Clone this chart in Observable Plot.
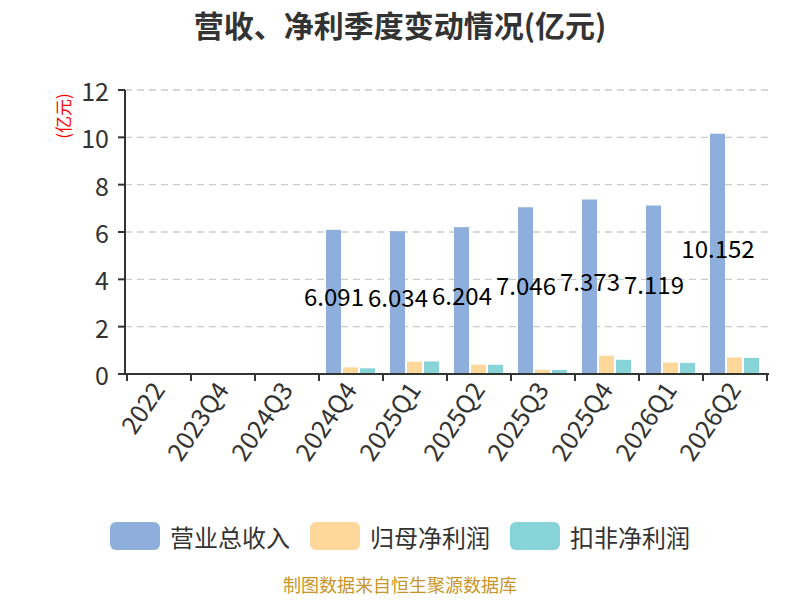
<!DOCTYPE html>
<html><head><meta charset="utf-8">
<script src="https://cdn.jsdelivr.net/npm/d3@7"></script>
<script src="https://cdn.jsdelivr.net/npm/@observablehq/plot@0.6"></script>
<style>
body{margin:0;width:800px;height:600px;background:#fff;font-family:"Noto Sans CJK SC","Noto Sans",sans-serif;overflow:hidden}
#title{height:50px;line-height:48px;text-align:center;font-size:30px;font-weight:bold;color:#333}
#chart{height:460px}
#legend{height:52px;display:flex;justify-content:center;align-items:center;font-size:24px;color:#333}
.item{display:flex;align-items:center;margin:0 10px}
.sw{width:50px;height:28px;border-radius:6px;margin-right:10px}
#caption{height:38px;line-height:44px;text-align:center;font-size:18px;color:#c8952a}
</style></head><body>
<div id="title">营收、净利季度变动情况(亿元)</div>
<div id="chart"></div>
<div id="legend"></div>
<div id="caption">制图数据来自恒生聚源数据库</div>
<script>
const categories = ["2022","2023Q4","2024Q3","2024Q4","2025Q1","2025Q2","2025Q3","2025Q4","2026Q1","2026Q2"];
const seriesNames = ["营业总收入","归母净利润","扣非净利润"];
const revenue = [null,null,null,6.091,6.034,6.204,7.046,7.373,7.119,10.152];
const netProfit = [null,null,null,0.28,0.52,0.39,0.18,0.77,0.48,0.70];
const deductedProfit = [null,null,null,0.24,0.53,0.39,0.17,0.60,0.47,0.68];
const colors = ["#8eaedb","#fed89a","#86d4d8"];
const yTicks = [0,2,4,6,8,10,12];
const unitLabel = "(亿元)";

const seriesValues = [revenue, netProfit, deductedProfit];
const rows = [];
categories.forEach((c, i) => {
  seriesNames.forEach((s, j) => {
    const v = seriesValues[j][i];
    if (v != null) rows.push({category: c, series: s, value: v});
  });
});
const labelRows = rows.filter(d => d.series === seriesNames[0]);

const W = 800, H = 460, mL = 125, mR = 32, mT = 40, mB = 136;
const font = '"Noto Sans CJK SC","Noto Sans",sans-serif';
const numFont = '"Noto Sans CJK SC","Noto Sans",sans-serif';

const chart = Plot.plot({
  width: W, height: H,
  marginTop: mT, marginLeft: mL, marginRight: mR, marginBottom: mB,
  style: {fontFamily: numFont, fontSize: "24px", color: "#333", background: "transparent", overflow: "visible"},
  fx: {domain: categories, paddingInner: 0, paddingOuter: 0, label: null, axis: null},
  x: {domain: seriesNames, paddingInner: 0.11, paddingOuter: 0.34, axis: null},
  y: {domain: [0, 12], axis: null},
  color: {domain: seriesNames, range: colors},
  marks: [
    Plot.barY(rows, {fx: "category", x: "series", y: "value", fill: "series"}),
    Plot.text(labelRows, {fx: "category", x: "series", y: d => d.value / 2, text: d => d.value.toFixed(3),
      fill: "#000", fontSize: 24, dy: -4, lineAnchor: "middle"}),
    Plot.axisFx({anchor: "bottom", tickRotate: -56, tickSize: 0, tickPadding: 11, fontSize: 25, label: null, fill: "#333"})
  ]
});
document.getElementById("chart").appendChild(chart);

// decorations drawn from the plot's own scales
const svg = d3.select(chart.tagName.toLowerCase() === "svg" ? chart : chart.querySelector("svg"));
const ys = chart.scale("y"), fxs = chart.scale("fx");
const y = v => ys.apply(v);
const x0 = mL, x1 = W - mR;
const grid = svg.insert("g", ":first-child");
yTicks.filter(t => t !== 0).forEach(t => {
  grid.append("line").attr("x1", x0).attr("x2", x1).attr("y1", y(t)).attr("y2", y(t))
    .attr("stroke", "#ccc").attr("stroke-width", 1.4).attr("stroke-dasharray", "7,5");
});
const ax = svg.append("g").attr("stroke", "#333").attr("stroke-width", 2);
ax.append("line").attr("x1", x0).attr("x2", x0).attr("y1", y(12)).attr("y2", y(0) + 1);
ax.append("line").attr("x1", x0 - 1).attr("x2", x1 + 1).attr("y1", y(0)).attr("y2", y(0));
const bounds = categories.map(c => fxs.apply(c)).concat([fxs.apply(categories[categories.length - 1]) + fxs.bandwidth]);
bounds.forEach(b => ax.append("line").attr("x1", b).attr("x2", b).attr("y1", y(0)).attr("y2", y(0) + 7));
yTicks.forEach(t => {
  ax.append("line").attr("x1", x0 - 7).attr("x2", x0).attr("y1", y(t)).attr("y2", y(t));
});
const yl = svg.append("g").attr("fill", "#333").attr("font-size", 25).attr("font-family", numFont)
  .attr("text-anchor", "end").attr("dominant-baseline", "central");
yTicks.forEach(t => yl.append("text").attr("x", x0 - 16).attr("y", y(t)).text(t));
svg.append("text").text(unitLabel)
  .attr("transform", `translate(${mL - 60},${y(10.9)}) rotate(-90)`)
  .attr("text-anchor", "middle").attr("dominant-baseline", "middle")
  .attr("fill", "#f00").attr("font-size", 17).attr("font-family", font);

// legend
const legend = d3.select("#legend");
seriesNames.forEach((s, i) => {
  const it = legend.append("div").attr("class", "item");
  it.append("div").attr("class", "sw").style("background", colors[i]);
  it.append("span").text(s);
});
</script>
</body></html>
